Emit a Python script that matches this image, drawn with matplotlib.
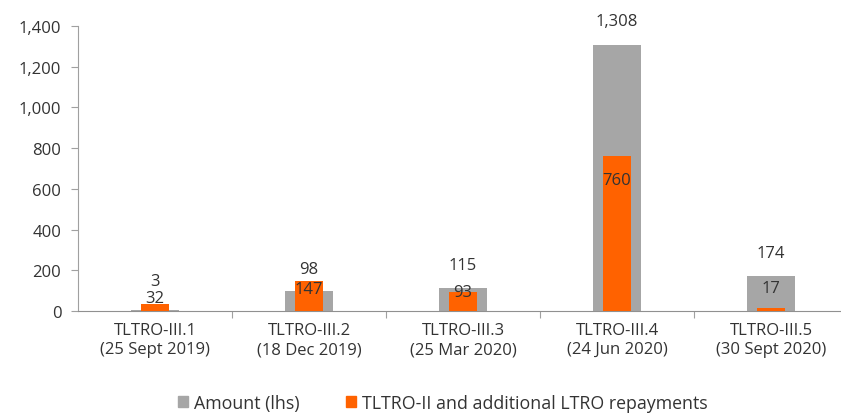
import matplotlib
matplotlib.use("Agg")
import matplotlib.pyplot as plt
from matplotlib.ticker import FuncFormatter, FixedLocator
from matplotlib.patches import Patch

categories = ["TLTRO-III.1\n(25 Sept 2019)", "TLTRO-III.2\n(18 Dec 2019)",
              "TLTRO-III.3\n(25 Mar 2020)", "TLTRO-III.4\n(24 Jun 2020)",
              "TLTRO-III.5\n(30 Sept 2020)"]
amount = [3, 98, 115, 1308, 174]
repay = [32, 147, 93, 760, 17]
series_names = ["Amount (lhs)", "TLTRO-II and additional LTRO repayments"]

# label offsets in points (style only)
amount_off = [21, 16, 16, 17, 16]
repay_off = [5, -6, 0, -17, 14]

GREY = "#A6A6A6"
ORANGE = "#FF6200"
TXT = "#333333"
FS = 12

plt.rcParams['font.family'] = ['Open Sans', 'DejaVu Sans']
fig = plt.figure(figsize=(8.41, 4.14), dpi=100)
ax = fig.add_axes([78/841, 1 - 312/414, (848 - 78)/841, (312 - 27)/414])

x = list(range(len(categories)))
ax.bar(x, amount, width=0.31, color=GREY, zorder=2)
ax.bar(x, repay, width=0.18, color=ORANGE, zorder=3)

for i in x:
    ax.annotate(f"{amount[i]:,}", (i, amount[i]), xytext=(0, amount_off[i]),
                textcoords="offset points", ha="center", va="center",
                fontsize=FS, color=TXT, zorder=4)
    ax.annotate(f"{repay[i]:,}", (i, repay[i]), xytext=(0, repay_off[i]),
                textcoords="offset points", ha="center", va="center",
                fontsize=FS, color=TXT, zorder=4)

ax.set_xlim(-0.5, 4.5)
ax.set_ylim(0, 1400)
ax.yaxis.set_major_locator(FixedLocator(range(0, 1401, 200)))
ax.yaxis.set_major_formatter(FuncFormatter(lambda v, p: f"{int(v):,}"))
ax.set_xticks(x)
ax.set_xticklabels(categories, fontsize=FS, color=TXT, linespacing=1.25)
ax.tick_params(axis='x', length=0, pad=8)
ax.set_xticks([0.5, 1.5, 2.5, 3.5], minor=True)
ax.tick_params(axis='x', which='minor', length=5, color="#A0A0A0", width=0.8)
ax.tick_params(axis='y', length=5, color="#A0A0A0", width=0.8, labelsize=FS,
               labelcolor=TXT, pad=7)

for s in ["top", "right"]:
    ax.spines[s].set_visible(False)
ax.spines["left"].set_color("#A0A0A0")
ax.spines["bottom"].set_color("#909090")
ax.spines["left"].set_linewidth(0.8)
ax.spines["bottom"].set_linewidth(0.8)

handles = [Patch(color=GREY), Patch(color=ORANGE)]
fig.legend(handles, series_names, loc="center", bbox_to_anchor=(443/841, 1 - 404/414),
           ncol=2, frameon=False, fontsize=12.8, handlelength=0.55, handleheight=0.55,
           handletextpad=0.35, columnspacing=2.6, labelcolor=TXT)

fig.savefig("out.png", dpi=100)
